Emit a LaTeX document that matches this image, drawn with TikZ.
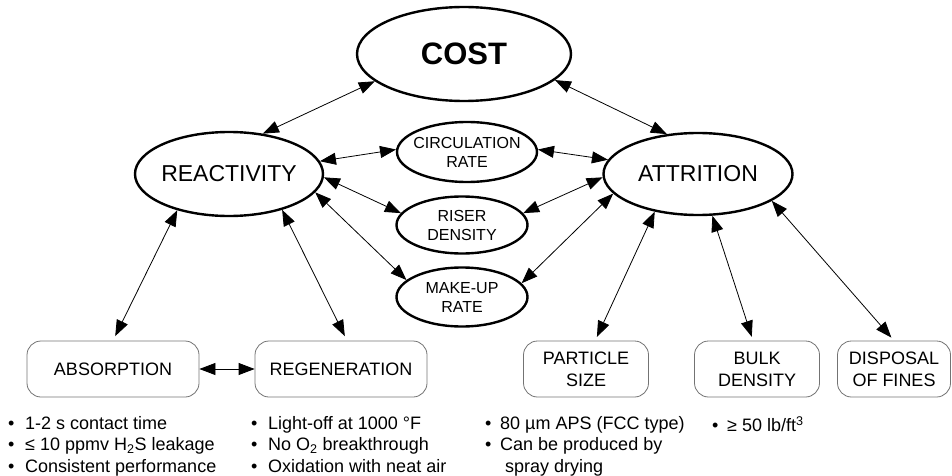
\documentclass[tikz,border=0pt]{standalone}
\usepackage{fontspec}
\setmainfont{Liberation Sans}
\usetikzlibrary{shapes.geometric,arrows.meta}

\begin{document}
\begin{tikzpicture}[x=1pt,y=-1pt,
  oval/.style={draw, ellipse, line width=2.4pt, inner xsep=-8pt, inner ysep=0pt, align=center},
  box/.style={draw=black!55, line width=0.8pt, rounded corners=14pt, minimum height=56pt,
    inner sep=0pt, align=center, font=\fontsize{18}{22}\selectfont},
  link/.style={{Triangle[length=16pt,width=12pt]}-{Triangle[length=16pt,width=12pt]}, line width=0.8pt},
  notes/.style={anchor=north west, inner sep=0pt, align=left, font=\fontsize{18}{21.5}\selectfont}]
  \useasboundingbox (0,0) rectangle (952,476);

  % main properties
  \node[oval, minimum width=214, minimum height=94, font=\fontsize{31}{36}\selectfont\bfseries] (cost) at (464,54) {COST};
  \node[oval, minimum width=188, minimum height=84, font=\fontsize{23}{27}\selectfont] (react) at (229,174) {REACTIVITY};
  \node[oval, minimum width=189, minimum height=82, font=\fontsize{23}{27}\selectfont] (attr) at (698,174) {ATTRITION};

  % process parameters in the middle
  \node[oval, minimum width=140, minimum height=60, font=\fontsize{16}{19}\selectfont] (circ) at (467,152) {CIRCULATION\\RATE};
  \node[oval, minimum width=131, minimum height=57, font=\fontsize{16}{19}\selectfont] (riser) at (462,225) {RISER\\DENSITY};
  \node[oval, minimum width=131, minimum height=59, font=\fontsize{16}{19}\selectfont] (makeup) at (462,297) {MAKE-UP\\RATE};

  % requirements
  \node[box, minimum width=172] (absorb) at (113,369) {ABSORPTION};
  \node[box, minimum width=172] (regen) at (341,369) {REGENERATION};
  \node[box, minimum width=125] (psize) at (586,369) {PARTICLE\\SIZE};
  \node[box, minimum width=125] (bulk) at (757,369) {BULK\\DENSITY};
  \node[box, minimum width=113] (fines) at (894,369) {DISPOSAL\\OF FINES};

  \draw[link] (react.50) -- (cost.197);
  \draw[link] (cost.344) -- (attr.128);
  \draw[link] (react.8) -- (circ.178);
  \draw[link] (react.358) -- (riser.169);
  \draw[link] (react.348) -- (makeup.163);
  \draw[link] (attr.171) -- (circ.2);
  \draw[link] (attr.182) -- (riser.11);
  \draw[link] (attr.193) -- (makeup.13);
  \draw[link, shorten >=5pt] (react.215) -- (absorb.north);
  \draw[link, shorten >=5pt] (react.326) -- (regen.78);
  \draw[link] (absorb.east) -- (regen.west);
  \draw[link, shorten >=4pt] (attr.221) -- (psize.72);
  \draw[link, shorten >=4pt] (attr.289) -- (bulk.98);
  \draw[link, shorten >=4pt] (attr.340) -- (fines.north);

  % notes under the boxes
  \node[notes] (absnotes) at (8,416) {\makebox[17pt][l]{•}1-2 s contact time\\
    \makebox[17pt][l]{•}≤ 10 ppmv H\textsubscript{2}S leakage\\
    \makebox[17pt][l]{•}Consistent performance};
  \node[notes] (regnotes) at (251,416) {\makebox[17pt][l]{•}Light-off at 1000 °F\\
    \makebox[17pt][l]{•}No O\textsubscript{2} breakthrough\\
    \makebox[17pt][l]{•}Oxidation with neat air};
  \node[notes] (sizenotes) at (485,416) {\makebox[15pt][l]{•}80 µm APS (FCC type)\\
    \makebox[15pt][l]{•}Can be produced by\\
    \hspace*{20pt}spray drying};
  \node[notes] (bulknotes) at (712,416) {\makebox[15pt][l]{•}≥ 50 lb/ft\textsuperscript{3}};
\end{tikzpicture}
\end{document}
